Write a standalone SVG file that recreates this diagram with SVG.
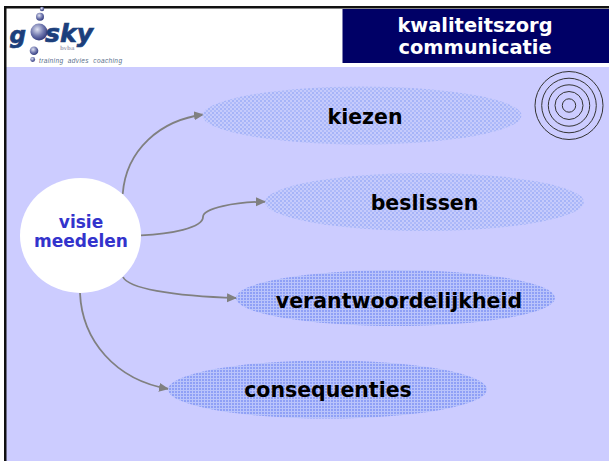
<svg xmlns="http://www.w3.org/2000/svg" width="609" height="461" viewBox="0 0 609 461">
<style>
.b{font-family:"DejaVu Sans",Verdana,sans-serif;font-weight:700;text-anchor:middle}
.l{font-size:20.500px;fill:#000}
.t{font-size:19.400px;fill:#fff}
.c{font-size:17px;fill:#3333cc}
.e{stroke:none}
.r{fill:none;stroke:#333;stroke-width:1}
.a{fill:none;stroke:#808080;stroke-width:1.800;marker-end:url(#ah)}
.g{font-family:"DejaVu Sans",sans-serif;font-weight:700;font-style:italic;fill:#1c3f7c;stroke:#1c3f7c;stroke-width:.7}
</style>
<defs>
<marker id="ah" markerUnits="userSpaceOnUse" markerWidth="10" markerHeight="10" refX="10" refY="5" orient="auto"><path d="M0 0.500L10 5L0 9.500Z" fill="#808080"/></marker>
<pattern id="dots" width="4" height="4" patternUnits="userSpaceOnUse"><rect width="4" height="4" fill="#c6cbfc"/><rect width="2" height="2" fill="#a6b4f8"/><rect x="2" y="2" width="2" height="2" fill="#aebaf9"/></pattern>
<pattern id="grid" width="3" height="3" patternUnits="userSpaceOnUse"><rect width="3" height="3" fill="#8fa0f6"/><rect width="3" height="1" fill="#bac4fb"/><rect width="1" height="3" fill="#bac4fb"/></pattern>
<radialGradient id="ball" cx="0.4" cy="0.35" r="0.7"><stop offset="0" stop-color="#dfe2f2"/><stop offset="0.55" stop-color="#6f76ad"/><stop offset="1" stop-color="#2a3378"/></radialGradient>
</defs>
<rect width="609" height="461" fill="#fff"/>
<rect x="5" y="67" width="604" height="394" fill="#ccccff"/>
<rect x="4" y="6" width="605" height="2.500" fill="#111"/>
<rect x="4" y="6" width="2.500" height="455" fill="#111"/>
<g id="header">
<rect x="342.500" y="9" width="266.500" height="54" fill="#000066"/>
<text class="b t" x="475" y="32">kwaliteitszorg</text>
<text class="b t" x="475" y="54">communicatie</text>
</g>
<g id="logo">
<circle cx="42" cy="9" r="2.200" fill="url(#ball)"/>
<circle cx="40" cy="16.700" r="4" fill="url(#ball)"/>
<circle cx="39" cy="32" r="8.500" fill="url(#ball)"/>
<circle cx="34" cy="50.700" r="4.300" fill="url(#ball)"/>
<circle cx="32.700" cy="59.500" r="2.400" fill="url(#ball)"/>
<text class="g" x="9.500" y="43" font-size="23">g</text>
<text class="g" x="45" y="42" font-size="25" textLength="48" lengthAdjust="spacingAndGlyphs">sky</text>
<text x="60" y="49.500" font-family="'DejaVu Serif',serif" font-weight="700" font-size="5.500" fill="#aab">bvba</text>
<text x="39" y="62.500" font-family="'Liberation Sans',sans-serif" font-style="italic" font-size="6.500" fill="#5a6f8c" textLength="83" xml:space="preserve">training  advies  coaching</text>
</g>
<g id="connectors">
<path class="a" d="M122.700 194C126 150 160 120 204 114.500"/>
<path class="a" d="M141 235.300C170 234 203 228 203 217C203 208 235 202 266 201.700"/>
<path class="a" d="M123 277C128 288 170 296 237 298"/>
<path class="a" d="M80 293C82 340 115 380 169 389"/>
</g>
<g id="kiezen"><ellipse class="e" cx="362" cy="115.500" rx="159.500" ry="29" fill="url(#dots)"/><text class="b l" x="365" y="124">kiezen</text></g>
<g id="beslissen"><ellipse class="e" cx="424.500" cy="202" rx="159.500" ry="29" fill="url(#dots)"/><text class="b l" x="424.500" y="210">beslissen</text></g>
<g id="verantwoordelijkheid"><ellipse class="e" cx="395.500" cy="298" rx="159.500" ry="28" fill="url(#grid)"/><text class="b l" x="399" y="308">verantwoordelijkheid</text></g>
<g id="consequenties"><ellipse class="e" cx="327.500" cy="389.500" rx="159.500" ry="29" fill="url(#grid)"/><text class="b l" x="328" y="397">consequenties</text></g>
<g id="visie"><ellipse cx="80.500" cy="235.500" rx="60.500" ry="57.500" fill="#fff"/>
<text class="b c" x="81" y="228">visie</text><text class="b c" x="81" y="247">meedelen</text></g>
<g id="target">
<circle class="r" cx="569" cy="105.500" r="34"/><circle class="r" cx="569" cy="105.500" r="27.300"/><circle class="r" cx="569" cy="105.500" r="20.700"/><circle class="r" cx="569" cy="105.500" r="14"/><circle class="r" cx="569" cy="105.500" r="6.700"/>
</g>
</svg>
